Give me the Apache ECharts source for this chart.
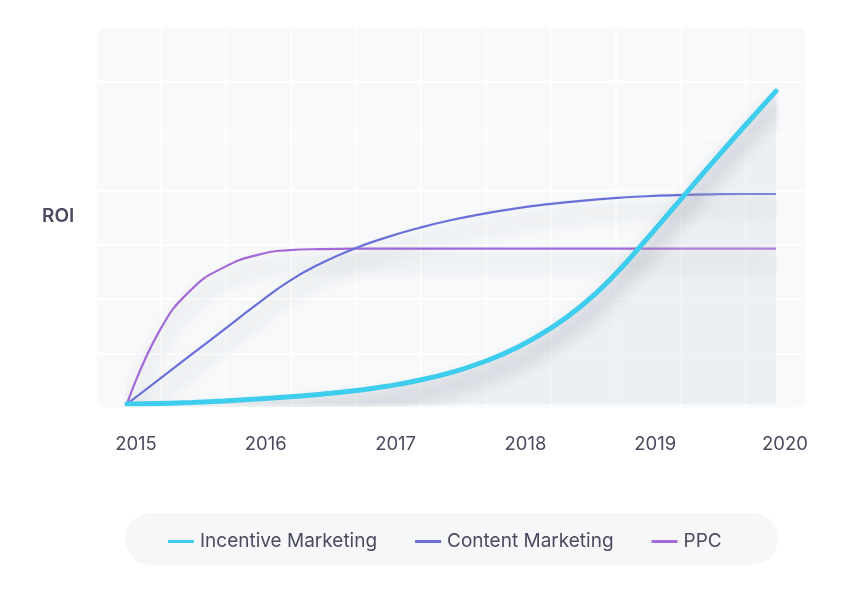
<!DOCTYPE html>
<html>
<head>
<meta charset="utf-8">
<script src="https://cdn.jsdelivr.net/npm/echarts@6/dist/echarts.min.js"></script>
<style>
html,body{margin:0;padding:0;background:#ffffff;}
#chart{width:855px;height:591px;}
</style>
</head>
<body>
<div id="chart"></div>
<script>
// ---- data ----
const yearTicks = [2015, 2016, 2017, 2018, 2019, 2020];
const seriesNames = ['Incentive Marketing', 'Content Marketing', 'PPC'];

// sample positions (years) read every quarter year
const sampleYears = [2015, 2015.25, 2015.5, 2015.75, 2016, 2016.25, 2016.5, 2016.75, 2017, 2017.25, 2017.5,
                     2017.75, 2018, 2018.25, 2018.5, 2018.75, 2019, 2019.25, 2019.5, 2019.75, 2020];

const incentiveValues = [0, 0.1, 0.4, 0.8, 1.3, 1.9, 2.6, 3.5, 4.7, 6.3, 8.4,
                         11.2, 14.9, 19.8, 26.0, 34.0, 43.6, 53.6, 63.6, 73.4, 83.0];

const contentValues = [0, 6.6, 13.2, 19.8, 26.4, 32.6, 37.4, 41.2, 44.2, 46.7, 48.8,
                       50.5, 51.9, 53.0, 53.9, 54.6, 55.1, 55.4, 55.6, 55.7, 55.7];

const ppcValues = [0, 19.4, 30.5, 36.3, 39.5, 40.8, 41.1, 41.2, 41.2, 41.2, 41.2,
                   41.2, 41.2, 41.2, 41.2, 41.2, 41.2, 41.2, 41.2, 41.2, 41.2];

const zip = (xs, ys) => xs.map((x, i) => [x, ys[i]]);

const textColor = '#4b4a5f';
const fontFamily = 'Inter, "Noto Sans", sans-serif';

const chart = echarts.init(document.getElementById('chart'), null, {renderer: 'canvas'});

const shadow = {shadowColor: 'rgba(30,35,50,0.38)', shadowBlur: 18, shadowOffsetY: 14};

chart.setOption({
  animation: false,
  backgroundColor: '#ffffff',
  graphic: [
    {type: 'rect', z: -10, shape: {x: 96, y: 27, width: 710, height: 381, r: 10}, style: {fill: '#f7f9fb'}},
    {type: 'rect', z: -10, shape: {x: 125, y: 513, width: 653, height: 52, r: 26}, style: {fill: '#f5f7f9'}},
    {type: 'text', left: 42, top: 207, style: {text: 'ROI', fill: textColor, font: '600 19px ' + fontFamily}}
  ],
  grid: [
    {left: 96, top: 27, width: 710, height: 381, containLabel: false},
    {left: 127, right: 79, top: 27, bottom: 187, containLabel: false}
  ],
  xAxis: [
    {gridIndex: 0, type: 'value', min: 0, max: 710, interval: 65, axisLine: {show: false}, axisTick: {show: false}, axisLabel: {show: false},
     splitLine: {show: true, lineStyle: {color: '#ffffff', width: 1.5}}},
    {gridIndex: 1, type: 'value', min: yearTicks[0], max: yearTicks[yearTicks.length - 1], interval: 1,
     axisLine: {show: false}, axisTick: {show: false}, splitLine: {show: false},
     axisLabel: {show: true, margin: 31, color: textColor, fontSize: 18.5, fontFamily: fontFamily, padding: [0, 0, 0, 18],
       formatter: v => String(Math.round(v))}}
  ],
  yAxis: [
    {gridIndex: 0, type: 'value', min: 0, max: 381, interval: 381 / 7, axisLine: {show: false}, axisTick: {show: false}, axisLabel: {show: false},
     splitLine: {show: true, lineStyle: {color: '#ffffff', width: 1.5}}},
    {gridIndex: 1, type: 'value', min: 0, max: 100, axisLine: {show: false}, axisTick: {show: false}, axisLabel: {show: false}, splitLine: {show: false}}
  ],
  legend: {
    data: seriesNames,
    left: 163, top: 527,
    icon: 'rect', itemWidth: 26, itemHeight: 3, itemGap: 38,
    textStyle: {color: textColor, fontSize: 19, fontFamily: fontFamily, padding: [0, 0, 0, 1]}
  },
  series: [
    {name: seriesNames[0], type: 'line', xAxisIndex: 1, yAxisIndex: 1, data: zip(sampleYears, incentiveValues),
     smooth: 0.5, showSymbol: false, symbol: 'none', z: 5,
     itemStyle: {color: '#3fcdee'},
     lineStyle: Object.assign({color: '#3fcdee', width: 5, cap: 'round'}, shadow),
     areaStyle: {color: 'rgba(196,204,214,0.32)', origin: 'start'}},
    {name: seriesNames[1], type: 'line', xAxisIndex: 1, yAxisIndex: 1, data: zip(sampleYears, contentValues),
     smooth: 0.5, showSymbol: false, symbol: 'none', z: 4,
     itemStyle: {color: '#6a70d8'},
     lineStyle: Object.assign({color: '#6a70d8', width: 2.2}, shadow)},
    {name: seriesNames[2], type: 'line', xAxisIndex: 1, yAxisIndex: 1, data: zip(sampleYears, ppcValues),
     smooth: 0.5, showSymbol: false, symbol: 'none', z: 3,
     itemStyle: {color: '#a46ad9'},
     lineStyle: Object.assign({color: '#a46ad9', width: 2.2}, shadow)}
  ]
});
</script>
</body>
</html>
